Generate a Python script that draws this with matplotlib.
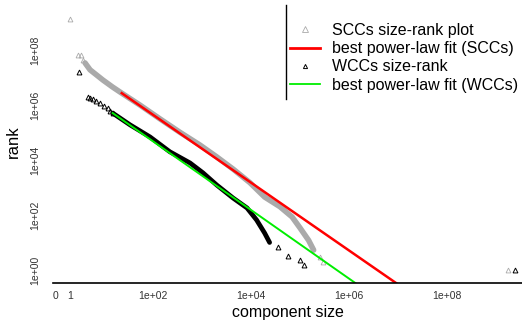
import matplotlib
matplotlib.use("Agg")
import matplotlib.pyplot as plt
from matplotlib.lines import Line2D

plt.rcParams['font.family'] = ['Liberation Sans', 'DejaVu Sans']

# SCC size-rank points (dense band)
scc_band_size = [4.1, 5.2, 7.2, 9.5, 15, 23, 54, 140, 360, 910, 2000, 4300,
                 9500, 1.9e4, 3.9e4, 6.9e4, 1.0e5, 1.5e5, 1.9e5]
scc_band_rank = [3.4e7, 1.9e7, 1.2e7, 8.1e6, 4.5e6, 2.7e6, 1.0e6, 3.1e5, 1.0e5,
                 3.5e4, 1.3e4, 4700, 1500, 450, 200, 85, 34, 12, 5.3]
# isolated SCC points
scc_pts_size = [2.0, 2.9, 3.4, 3.7, 2.6e5, 2.9e5, 1.8e9]
scc_pts_rank = [1.3e9, 6.6e7, 6.6e7, 4.3e7, 3.0, 2.0, 1.0]

# WCC size-rank points
wcc_band_size = [15, 34, 87, 220, 570, 1050, 2000, 4300, 8300, 1.3e4, 1.9e4, 2.4e4]
wcc_band_rank = [5.1e5, 1.9e5, 6.9e4, 2.0e4, 7800, 3400, 1230, 415, 180, 66, 22, 10]
wcc_pts_size = [3.1, 4.7, 5.3, 6.0, 7.0, 8.3, 10, 12, 13.5, 15,
                3.6e4, 5.7e4, 1.0e5, 1.2e5, 2.4e9]
wcc_pts_rank = [1.6e7, 2.0e6, 1.8e6, 1.65e6, 1.4e6, 1.18e6, 9.5e5, 7.8e5, 6.3e5, 5.1e5,
                7.0, 3.2, 2.3, 1.5, 1.0]

# best power-law fits (end points)
fit_scc_size = [23, 1e7]
fit_scc_rank = [2.7e6, 0.3]
fit_wcc_size = [15, 1.4e6]
fit_wcc_rank = [5.1e5, 0.32]

xticks = [1, 2, 1e2, 1e4, 1e6, 1e8]
xtick_labels = ['0', '1', '1e+02', '1e+04', '1e+06', '1e+08']
yticks = [1, 1e2, 1e4, 1e6, 1e8]
ytick_labels = ['1e+00', '1e+02', '1e+04', '1e+06', '1e+08']

grey = '#aaaaaa'

fig = plt.figure(figsize=(5.22, 3.2), dpi=100)
ax = fig.add_axes([53/522, 1 - 283/320, 1 - 53/522, 283/320])

ax.plot(scc_band_size, scc_band_rank, color=grey, lw=4.0, solid_capstyle='round')
ax.plot(scc_pts_size, scc_pts_rank, ls='none', marker='^', ms=3.5,
        mfc='none', mec=grey, mew=0.6)
ax.plot(fit_scc_size, fit_scc_rank, color='red', lw=1.8)

ax.plot(wcc_band_size, wcc_band_rank, color='black', lw=3.4, solid_capstyle='round')
ax.plot(wcc_pts_size, wcc_pts_rank, ls='none', marker='^', ms=3.5,
        mfc='none', mec='black', mew=0.7)
ax.plot(fit_wcc_size, fit_wcc_rank, color='#00ee00', lw=1.4)

ax.set_xscale('log')
ax.set_yscale('log')
ax.set_xlim(0.91, 3.4e9)
ax.set_ylim(0.336, 6.6e9)

for s in ['top', 'right', 'left']:
    ax.spines[s].set_visible(False)
ax.spines['bottom'].set_linewidth(1.2)

ax.set_xticks(xticks)
ax.set_xticklabels(xtick_labels)
ax.set_xticks([1e4], minor=True)
ax.set_xticklabels([''], minor=True)
ax.set_yticks(yticks)
ax.set_yticklabels(ytick_labels, rotation=90, va='center')
ax.yaxis.set_minor_locator(matplotlib.ticker.NullLocator())
ax.tick_params(axis='both', which='major', length=0, labelsize=7.5,
               labelcolor='#333333')
ax.tick_params(axis='x', which='major', pad=6)
ax.tick_params(axis='y', which='major', pad=9)
ax.tick_params(axis='x', which='minor', length=4, width=1, direction='out')

ax.set_xlabel('component size', fontsize=11.5, labelpad=3)
ax.set_ylabel('rank', fontsize=12, labelpad=7)

handles = [
    Line2D([], [], ls='none', marker='^', ms=4, mfc='none', mec=grey, mew=0.6),
    Line2D([], [], color='red', lw=2),
    Line2D([], [], ls='none', marker='^', ms=3, mfc='none', mec='black', mew=0.7),
    Line2D([], [], color='#00ee00', lw=1.3),
]
labels = ['SCCs size-rank plot', 'best power-law fit (SCCs)',
          'WCCs size-rank', 'best power-law fit (WCCs)']
fig.legend(handles, labels, loc='upper left',
           bbox_to_anchor=(290/522, 1 - 23/320), frameon=False,
           fontsize=11.5, handlelength=1.9, handletextpad=0.7,
           labelspacing=0.2, borderpad=0, borderaxespad=0)
fig.add_artist(Line2D([286/522, 286/522], [1 - 5/320, 1 - 99/320],
                      transform=fig.transFigure, color='black', lw=1))

fig.savefig('out.png', dpi=100)
